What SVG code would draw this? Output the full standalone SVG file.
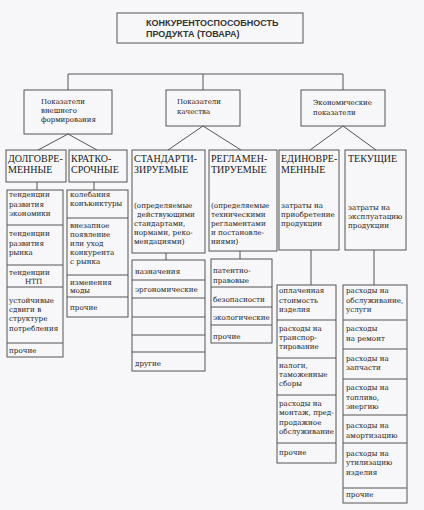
<svg xmlns="http://www.w3.org/2000/svg" width="424" height="510" viewBox="0 0 424 510">
<style>
.bg{fill:#f7f7f9}
.box{fill:none;stroke:#555;stroke-width:1}
.ln{fill:none;stroke:#555;stroke-width:1}
.t{font-family:"Liberation Sans",Arial,sans-serif;font-weight:bold;font-size:9px;fill:#333}
.h{font-family:"Liberation Serif","Times New Roman",serif;font-size:10px;fill:#1a1a1a}
.s{font-family:"DejaVu Serif",serif;font-size:7.2px;fill:#1a1a1a}
.m{font-family:"DejaVu Serif",serif;font-size:7px;fill:#1a1a1a}
</style>
<rect class="bg" x="0" y="0" width="424" height="510"/>

<g id="connectors">
<path class="ln" d="M68 74H343M68 74V90M203 74V90M343 74V90"/>
<path class="ln" d="M68 134L38 150M68 134L97 150"/>
<path class="ln" d="M203 126L168 150M203 126L241 150"/>
<path class="ln" d="M343 126L310 150M343 126L376 150"/>
<path class="ln" d="M37 182V190M94 182V190M166 253V260M240 251V259M311 250V285M374 250V285"/>
</g>

<g id="root">
<rect class="box" x="117" y="13" width="186" height="30"/>
<text class="t" x="146" y="26">КОНКУРЕНТОСПОСОБНОСТЬ</text>
<text class="t" x="146" y="37">ПРОДУКТА (ТОВАРА)</text>
</g>

<g id="external">
<rect class="box" x="24" y="90" width="88" height="44"/>
<text class="m" x="41" y="104">Показатели</text>
<text class="m" x="41" y="113">внешнего</text>
<text class="m" x="41" y="122">формирования</text>
</g>
<g id="quality">
<rect class="box" x="166" y="90" width="74" height="36"/>
<text class="m" x="177" y="104">Показатели</text>
<text class="m" x="177" y="114">качества</text>
</g>
<g id="economic">
<rect class="box" x="301" y="90" width="84" height="36"/>
<text class="m" x="313" y="105">Экономические</text>
<text class="m" x="313" y="115">показатели</text>
</g>

<g id="longterm">
<rect class="box" x="6" y="150" width="60" height="32"/>
<text class="h" x="8" y="162">ДОЛГОВРЕ-</text>
<text class="h" x="8" y="173">МЕННЫЕ</text>
</g>
<g id="shortterm">
<rect class="box" x="69" y="150" width="58" height="32"/>
<text class="h" x="71" y="162">КРАТКО-</text>
<text class="h" x="71" y="173">СРОЧНЫЕ</text>
</g>
<g id="standard">
<rect class="box" x="132" y="150" width="73" height="103"/>
<text class="h" x="134" y="162">СТАНДАРТИ-</text>
<text class="h" x="134" y="173">ЗИРУЕМЫЕ</text>
<text class="s" x="134" y="208">(определяемые</text>
<text class="s" x="137" y="217">действующими</text>
<text class="s" x="134" y="226">стандартами,</text>
<text class="s" x="134" y="235">нормами, реко-</text>
<text class="s" x="134" y="244">мендациями)</text>
</g>
<g id="regulated">
<rect class="box" x="209" y="150" width="68" height="101"/>
<text class="h" x="211" y="162">РЕГЛАМЕН-</text>
<text class="h" x="211" y="173">ТИРУЕМЫЕ</text>
<text class="s" x="211" y="208">(определяемые</text>
<text class="s" x="211" y="217">техническими</text>
<text class="s" x="211" y="226">регламентами</text>
<text class="s" x="211" y="235">и постановле-</text>
<text class="s" x="211" y="244">ниями)</text>
</g>
<g id="onetime">
<rect class="box" x="279" y="150" width="60" height="100"/>
<text class="h" x="281" y="162">ЕДИНОВРЕ-</text>
<text class="h" x="281" y="173">МЕННЫЕ</text>
<text class="s" x="281" y="208">затраты на</text>
<text class="s" x="281" y="217">приобретение</text>
<text class="s" x="281" y="226">продукции</text>
</g>
<g id="current">
<rect class="box" x="345" y="150" width="61" height="100"/>
<text class="h" x="348" y="162">ТЕКУЩИЕ</text>
<text class="s" x="348" y="210">затраты на</text>
<text class="s" x="348" y="219">эксплуатацию</text>
<text class="s" x="348" y="228">продукции</text>
</g>

<g id="longterm-list">
<rect class="box" x="7" y="190" width="56" height="167"/>
<path class="ln" d="M7 225H63M7 265H63M7 287H63M7 343H63"/>
<text class="s" x="9" y="197">тенденции</text>
<text class="s" x="9" y="206.5">развития</text>
<text class="s" x="9" y="216">экономики</text>
<text class="s" x="9" y="236">тенденции</text>
<text class="s" x="9" y="245.5">развития</text>
<text class="s" x="9" y="255">рынка</text>
<text class="s" x="9" y="275">тенденции</text>
<text class="s" x="25" y="283.5">НТП</text>
<text class="s" x="9" y="303">устойчивые</text>
<text class="s" x="9" y="312">сдвиги в</text>
<text class="s" x="9" y="321">структуре</text>
<text class="s" x="9" y="330.5">потребления</text>
<text class="s" x="9" y="353">прочие</text>
</g>
<g id="shortterm-list">
<rect class="box" x="67" y="190" width="61" height="127"/>
<path class="ln" d="M67 218H128M67 275H128M67 297H128"/>
<text class="s" x="70" y="197">колебания</text>
<text class="s" x="70" y="206">конъюнктуры</text>
<text class="s" x="70" y="228">внезапное</text>
<text class="s" x="70" y="236.5">появление</text>
<text class="s" x="70" y="245.5">или уход</text>
<text class="s" x="70" y="255">конкурента</text>
<text class="s" x="70" y="264">с рынка</text>
<text class="s" x="70" y="284.5">изменения</text>
<text class="s" x="70" y="293">моды</text>
<text class="s" x="70" y="309.5">прочие</text>
</g>
<g id="standard-list">
<rect class="box" x="132" y="260" width="73" height="111"/>
<path class="ln" d="M132 280H205M132 298H205M132 317H205M132 335H205M132 352H205"/>
<text class="s" x="135" y="273.5">назначения</text>
<text class="s" x="135" y="291.5">эргономические</text>
<text class="s" x="135" y="366">другие</text>
</g>
<g id="regulated-list">
<rect class="box" x="211" y="259" width="61" height="84"/>
<path class="ln" d="M211 287H272M211 307H272M211 325H272"/>
<text class="s" x="213" y="272.5">патентно-</text>
<text class="s" x="213" y="282.5">правовые</text>
<text class="s" x="213" y="301.5">безопасности</text>
<text class="s" x="213" y="319.5">экологические</text>
<text class="s" x="213" y="338.5">прочие</text>
</g>
<g id="onetime-list">
<rect class="box" x="277" y="285" width="59" height="178"/>
<path class="ln" d="M277 320H336M277 358H336M277 395H336M277 443H336"/>
<text class="s" x="279" y="293">оплаченная</text>
<text class="s" x="279" y="302.5">стоимость</text>
<text class="s" x="279" y="311.5">изделия</text>
<text class="s" x="279" y="330.5">расходы на</text>
<text class="s" x="279" y="339.5">транспор-</text>
<text class="s" x="279" y="349">тирование</text>
<text class="s" x="279" y="367.5">налоги,</text>
<text class="s" x="279" y="376.5">таможенные</text>
<text class="s" x="279" y="385.5">сборы</text>
<text class="s" x="279" y="405.5">расходы на</text>
<text class="s" x="279" y="415">монтаж, пред-</text>
<text class="s" x="279" y="424.5">продажное</text>
<text class="s" x="279" y="433.5">обслуживание</text>
<text class="s" x="279" y="454.5">прочие</text>
</g>
<g id="current-list">
<rect class="box" x="343" y="285" width="64" height="218"/>
<path class="ln" d="M343 320H407M343 349H407M343 379H407M343 415H407M343 443H407M343 488H407"/>
<text class="s" x="346" y="293">расходы на</text>
<text class="s" x="346" y="302.5">обслуживание,</text>
<text class="s" x="346" y="311.5">услуги</text>
<text class="s" x="346" y="330.5">расходы</text>
<text class="s" x="346" y="340.5">на ремонт</text>
<text class="s" x="346" y="360.5">расходы на</text>
<text class="s" x="346" y="370">запчасти</text>
<text class="s" x="346" y="390">расходы на</text>
<text class="s" x="346" y="399.5">топливо,</text>
<text class="s" x="346" y="408.5">энергию</text>
<text class="s" x="346" y="427.5">расходы на</text>
<text class="s" x="346" y="437.5">амортизацию</text>
<text class="s" x="346" y="455.5">расходы на</text>
<text class="s" x="346" y="465">утилизацию</text>
<text class="s" x="346" y="475">изделия</text>
<text class="s" x="346" y="497">прочие</text>
</g>
</svg>
